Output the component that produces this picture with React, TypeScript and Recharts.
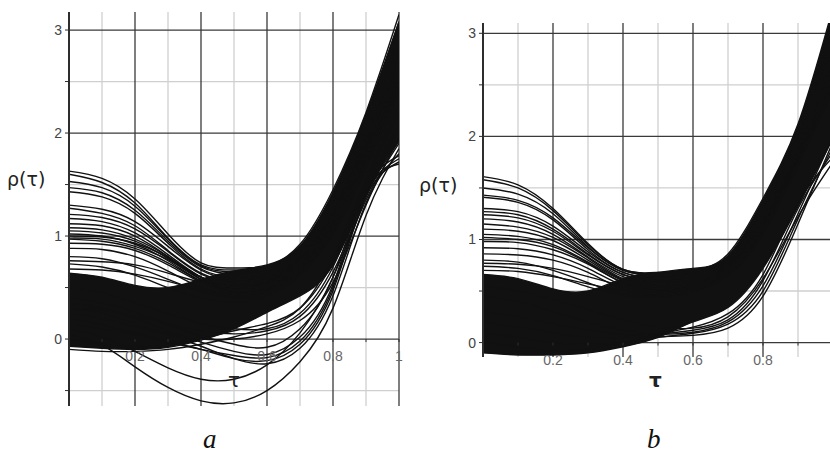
import { Area, CartesianGrid, ComposedChart, Line, XAxis, YAxis } from "recharts";

// sample points along tau
const TAU = [0, 0.1, 0.2, 0.3, 0.4, 0.5, 0.6, 0.7, 0.8, 0.9, 1];

// panel a: dense core of the bundle (lower / upper edge)
const A_BAND_LOW = [-0.07, -0.09, -0.1, -0.08, -0.01, 0.1, 0.26, 0.42, 0.72, 1.4, 1.92];
const A_BAND_HIGH = [0.64, 0.6, 0.52, 0.5, 0.58, 0.66, 0.72, 0.9, 1.42, 2.18, 3.08];

// panel a: curves fanning out above the core at small tau
const A_FAN = [
  [1.63, 1.56, 1.36, 1.02, 0.74, 0.69, 0.71, 0.92, 1.45, 2.2, 3.15],
  [1.6, 1.52, 1.32, 0.98, 0.72, 0.67, 0.7, 0.9, 1.42, 2.16, 3.08],
  [1.53, 1.47, 1.29, 0.97, 0.71, 0.65, 0.68, 0.88, 1.38, 2.1, 2.98],
  [1.47, 1.42, 1.25, 0.95, 0.7, 0.63, 0.66, 0.86, 1.35, 2.05, 2.9],
  [1.43, 1.38, 1.22, 0.93, 0.68, 0.6, 0.64, 0.84, 1.31, 2.0, 2.85],
  [1.3, 1.26, 1.14, 0.9, 0.67, 0.58, 0.62, 0.82, 1.28, 1.96, 2.8],
  [1.27, 1.22, 1.1, 0.86, 0.64, 0.56, 0.6, 0.8, 1.25, 1.92, 2.75],
  [1.21, 1.18, 1.07, 0.85, 0.63, 0.55, 0.58, 0.78, 1.22, 1.9, 2.7],
  [1.17, 1.14, 1.03, 0.82, 0.6, 0.5, 0.55, 0.76, 1.2, 1.88, 2.68],
  [1.12, 1.1, 1.0, 0.8, 0.58, 0.49, 0.55, 0.77, 1.22, 1.9, 2.72],
  [1.08, 1.06, 0.97, 0.8, 0.6, 0.52, 0.57, 0.78, 1.2, 1.85, 2.6],
  [1.05, 1.03, 0.95, 0.78, 0.58, 0.5, 0.55, 0.76, 1.18, 1.82, 2.55],
  [1.02, 1.0, 0.92, 0.76, 0.56, 0.46, 0.5, 0.72, 1.15, 1.8, 2.6],
  [1.0, 0.99, 0.93, 0.79, 0.6, 0.5, 0.53, 0.74, 1.16, 1.8, 2.58],
  [0.98, 0.97, 0.9, 0.77, 0.6, 0.51, 0.55, 0.75, 1.17, 1.83, 2.62],
  [0.97, 0.95, 0.88, 0.74, 0.56, 0.46, 0.5, 0.7, 1.12, 1.78, 2.5],
  [0.93, 0.92, 0.86, 0.72, 0.55, 0.45, 0.48, 0.68, 1.1, 1.75, 2.55],
  [0.88, 0.87, 0.8, 0.66, 0.5, 0.42, 0.46, 0.66, 1.08, 1.72, 2.45],
  [0.8, 0.78, 0.7, 0.58, 0.46, 0.4, 0.44, 0.64, 1.05, 1.7, 2.5],
  [0.76, 0.75, 0.72, 0.64, 0.55, 0.5, 0.52, 0.68, 1.08, 1.72, 2.45],
  [0.73, 0.7, 0.62, 0.5, 0.4, 0.36, 0.42, 0.62, 1.02, 1.65, 2.4],
  [0.68, 0.67, 0.63, 0.56, 0.48, 0.44, 0.48, 0.66, 1.05, 1.68, 2.42],
];

// panel a: curves dipping below zero
const A_DIPS = [
  [0.05, -0.06, -0.27, -0.47, -0.6, -0.62, -0.5, -0.22, 0.3, 1.2, 1.85],
  [0.1, 0.02, -0.12, -0.28, -0.39, -0.39, -0.25, 0.06, 0.6, 1.35, 1.9],
  [0.3, 0.25, 0.15, 0.04, -0.07, -0.19, -0.24, -0.09, 0.42, 1.32, 1.8],
  [0.2, 0.14, 0.06, -0.02, -0.1, -0.19, -0.21, -0.05, 0.47, 1.38, 1.72],
  [0.15, 0.1, 0.04, -0.03, -0.1, -0.16, -0.18, -0.02, 0.5, 1.4, 1.75],
  [0.35, 0.3, 0.2, 0.08, -0.03, -0.12, -0.15, 0.02, 0.53, 1.43, 1.7],
  [0.4, 0.35, 0.26, 0.14, 0.03, -0.05, -0.08, 0.1, 0.6, 1.45, 1.78],
];

// panel a: curves running under the core on the right
const A_LOW = [
  [0.5, 0.45, 0.35, 0.25, 0.15, 0.1, 0.1, 0.25, 0.7, 1.45, 2.1],
  [0.3, 0.28, 0.22, 0.15, 0.08, 0.05, 0.08, 0.22, 0.65, 1.38, 2.05],
  [0.0, -0.05, -0.08, -0.06, 0.0, 0.08, 0.15, 0.3, 0.75, 1.5, 2.2],
  [-0.1, -0.12, -0.12, -0.1, -0.05, 0.02, 0.12, 0.3, 0.8, 1.55, 2.3],
  [0.25, 0.2, 0.12, 0.05, 0.0, 0.0, 0.05, 0.18, 0.55, 1.3, 1.95],
];

// panel b
const B_BAND_LOW = [-0.1, -0.12, -0.12, -0.1, -0.04, 0.05, 0.2, 0.34, 0.72, 1.32, 1.98];
const B_BAND_HIGH = [0.66, 0.62, 0.52, 0.5, 0.62, 0.68, 0.72, 0.84, 1.38, 2.1, 3.22];

const B_FAN = [
  [1.61, 1.53, 1.3, 0.96, 0.71, 0.68, 0.7, 0.86, 1.4, 2.12, 3.25],
  [1.58, 1.5, 1.28, 0.95, 0.71, 0.67, 0.69, 0.84, 1.37, 2.08, 3.2],
  [1.5, 1.44, 1.25, 0.93, 0.7, 0.66, 0.68, 0.82, 1.34, 2.05, 3.15],
  [1.43, 1.38, 1.21, 0.92, 0.7, 0.65, 0.67, 0.8, 1.3, 2.0, 3.1],
  [1.41, 1.36, 1.19, 0.9, 0.68, 0.63, 0.66, 0.8, 1.28, 1.98, 3.05],
  [1.3, 1.27, 1.13, 0.88, 0.68, 0.62, 0.65, 0.79, 1.26, 1.95, 3.0],
  [1.27, 1.24, 1.1, 0.86, 0.66, 0.6, 0.63, 0.78, 1.24, 1.93, 2.95],
  [1.24, 1.21, 1.08, 0.85, 0.66, 0.6, 0.62, 0.77, 1.22, 1.9, 2.9],
  [1.2, 1.17, 1.05, 0.83, 0.64, 0.57, 0.6, 0.76, 1.2, 1.88, 2.85],
  [1.15, 1.12, 1.02, 0.82, 0.62, 0.55, 0.58, 0.75, 1.18, 1.86, 2.8],
  [1.1, 1.08, 0.99, 0.8, 0.61, 0.54, 0.57, 0.74, 1.16, 1.84, 2.75],
  [1.05, 1.03, 0.95, 0.78, 0.6, 0.52, 0.56, 0.73, 1.15, 1.82, 2.7],
  [1.02, 1.0, 0.93, 0.77, 0.58, 0.5, 0.55, 0.72, 1.14, 1.8, 2.68],
  [0.98, 0.97, 0.9, 0.76, 0.58, 0.5, 0.54, 0.72, 1.13, 1.8, 2.65],
  [0.92, 0.91, 0.85, 0.72, 0.55, 0.47, 0.52, 0.7, 1.12, 1.78, 2.6],
  [0.86, 0.85, 0.8, 0.68, 0.52, 0.45, 0.5, 0.68, 1.1, 1.76, 2.55],
  [0.8, 0.78, 0.7, 0.58, 0.47, 0.45, 0.5, 0.66, 1.08, 1.75, 2.5],
  [0.77, 0.76, 0.72, 0.64, 0.55, 0.5, 0.53, 0.68, 1.1, 1.76, 2.52],
  [0.74, 0.72, 0.65, 0.54, 0.46, 0.44, 0.49, 0.65, 1.06, 1.72, 2.45],
  [0.7, 0.69, 0.64, 0.57, 0.5, 0.47, 0.51, 0.66, 1.07, 1.73, 2.48],
];

const B_LOW = [
  [0.3, 0.25, 0.18, 0.12, 0.08, 0.06, 0.07, 0.14, 0.45, 1.15, 1.95],
  [0.1, 0.05, 0.0, -0.02, 0.0, 0.05, 0.09, 0.18, 0.5, 1.2, 1.9],
  [0.45, 0.4, 0.3, 0.2, 0.12, 0.08, 0.1, 0.2, 0.55, 1.25, 2.0],
  [0.2, 0.15, 0.1, 0.05, 0.05, 0.08, 0.12, 0.22, 0.6, 1.3, 1.85],
  [0.55, 0.5, 0.42, 0.32, 0.22, 0.15, 0.14, 0.25, 0.62, 1.22, 1.75],
  [0.0, -0.04, -0.08, -0.06, 0.0, 0.08, 0.15, 0.28, 0.66, 1.35, 1.8],
];

// grid & tick values
const X_MAJOR = [0.2, 0.4, 0.6, 0.8, 1];
const X_MINOR = [0.1, 0.3, 0.5, 0.7, 0.9];
const X_TICKS = [0.1, 0.2, 0.3, 0.4, 0.5, 0.6, 0.7, 0.8, 0.9, 1];
const A_X_LABELS = [0.2, 0.4, 0.6, 0.8, 1];
const B_X_LABELS = [0.2, 0.4, 0.6, 0.8];
const A_Y_MAJOR = [0, 1, 2, 3];
const A_Y_MINOR = [-0.5, 0.5, 1.5, 2.5];
const A_Y_TICKS = [-0.5, 0, 0.5, 1, 1.5, 2, 2.5, 3];
const B_Y_MAJOR = [0, 1, 2, 3];
const B_Y_MINOR = [0.5, 1.5, 2.5];
const B_Y_TICKS = [0, 0.5, 1, 1.5, 2, 2.5, 3];

const INK = "#111";
const AXIS = "#2e2e2e";
const TICK_FONT = "'Liberation Sans', Arial, sans-serif";
const X_AXIS_H = 30;

type Margin = { top: number; right: number; bottom: number; left: number };

interface PanelProps {
  curves: number[][];
  bandLow: number[];
  bandHigh: number[];
  yDomain: [number, number];
  yTicks: number[];
  yMajor: number[];
  yMinor: number[];
  xLabels: number[];
  width: number;
  height: number;
  margin: Margin;
}

function Panel({ curves, bandLow, bandHigh, yDomain, yTicks, yMajor, yMinor, xLabels, width, height, margin }: PanelProps) {
  const data = TAU.map((t, i) => {
    const row: Record<string, number | number[]> = { t, band: [bandLow[i], bandHigh[i]] };
    curves.forEach((c, k) => {
      row[`c${k}`] = c[i];
    });
    return row;
  });

  const [yMin, yMax] = yDomain;
  const plotH = height - margin.top - margin.bottom - X_AXIS_H;
  const zeroY = margin.top + (plotH * yMax) / (yMax - yMin);

  // x ticks sit on the zero line, not at the bottom of the plot
  const renderXTick = (props: any) => {
    const { x, payload } = props;
    const v = Math.round(payload.value * 10) / 10;
    const show = xLabels.includes(v);
    return (
      <g>
        <line x1={x} x2={x} y1={zeroY} y2={zeroY + 3} stroke={AXIS} strokeWidth={1} />
        {show && (
          <text x={x} y={zeroY + 22} textAnchor="middle" fill="#666" fontSize={14} fontFamily={TICK_FONT}>
            {String(v)}
          </text>
        )}
      </g>
    );
  };

  return (
    <ComposedChart width={width} height={height} data={data} margin={margin}>
      <CartesianGrid verticalValues={X_MINOR} horizontalValues={yMinor} stroke="#cfcfcf" strokeWidth={1.3} />
      <CartesianGrid verticalValues={X_MAJOR} horizontalValues={yMajor} stroke="#3a3a3a" strokeWidth={1.3} />
      <XAxis
        type="number"
        dataKey="t"
        domain={[0, 1]}
        allowDataOverflow
        ticks={X_TICKS}
        interval={0}
        height={X_AXIS_H}
        axisLine={false}
        tickLine={false}
        tick={renderXTick}
      />
      <YAxis
        type="number"
        domain={yDomain}
        allowDataOverflow
        ticks={yTicks}
        interval={0}
        width={30}
        tickSize={4}
        tickMargin={3}
        tickFormatter={(v: number) => (Number.isInteger(v) ? String(v) : "")}
        axisLine={{ stroke: AXIS, strokeWidth: 2 }}
        tickLine={{ stroke: AXIS }}
        tick={{ fill: "#444", fontSize: 14, fontFamily: TICK_FONT }}
      />
      <Area
        dataKey="band"
        type="natural"
        stroke={INK}
        strokeWidth={1.4}
        fill={INK}
        fillOpacity={1}
        isAnimationActive={false}
      />
      {curves.map((_, k) => (
        <Line
          key={`c${k}`}
          dataKey={`c${k}`}
          type="natural"
          stroke={INK}
          strokeWidth={1.4}
          dot={false}
          activeDot={false}
          isAnimationActive={false}
        />
      ))}
    </ComposedChart>
  );
}

const abs = (left: number, top: number): React.CSSProperties => ({ position: "absolute", left, top });

export default function App() {
  const aCurves = [...A_FAN, ...A_DIPS, ...A_LOW];
  const bCurves = [...B_FAN, ...B_LOW];

  return (
    <div
      style={{
        position: "absolute",
        left: 0,
        top: 0,
        width: 830,
        height: 454,
        overflow: "hidden",
        background: "#fff",
      }}
    >
      <div style={abs(0, 0)}>
        <Panel
          curves={aCurves}
          bandLow={A_BAND_LOW}
          bandHigh={A_BAND_HIGH}
          yDomain={[-0.65, 3.175]}
          yTicks={A_Y_TICKS}
          yMajor={A_Y_MAJOR}
          yMinor={A_Y_MINOR}
          xLabels={A_X_LABELS}
          width={410}
          height={454}
          margin={{ top: 12, right: 11, bottom: 48 - X_AXIS_H, left: 39 }}
        />
      </div>
      <div style={abs(410, 0)}>
        <Panel
          curves={bCurves}
          bandLow={B_BAND_LOW}
          bandHigh={B_BAND_HIGH}
          yDomain={[-0.14, 3.1]}
          yTicks={B_Y_TICKS}
          yMajor={B_Y_MAJOR}
          yMinor={B_Y_MINOR}
          xLabels={B_X_LABELS}
          width={430}
          height={454}
          margin={{ top: 23, right: 7, bottom: 97 - X_AXIS_H, left: 43 }}
        />
      </div>

      <div style={{ ...abs(7, 168), fontFamily: "'DejaVu Sans', sans-serif", fontSize: 19, color: "#222" }}>
        ρ(τ)
      </div>
      <div style={{ ...abs(419, 174), fontFamily: "'DejaVu Sans', sans-serif", fontSize: 19, color: "#222" }}>
        ρ(τ)
      </div>
      <div style={{ ...abs(228, 368), fontFamily: "'DejaVu Sans', sans-serif", fontSize: 20, color: "#222" }}>
        τ
      </div>
      <div
        style={{ ...abs(649, 368), fontFamily: "'DejaVu Sans', sans-serif", fontSize: 20, fontWeight: 700, color: "#222" }}
      >
        τ
      </div>
      <div style={{ ...abs(203, 424), fontFamily: "'Liberation Serif', serif", fontStyle: "italic", fontSize: 27, color: "#111" }}>
        a
      </div>
      <div style={{ ...abs(647, 424), fontFamily: "'Liberation Serif', serif", fontStyle: "italic", fontSize: 27, color: "#111" }}>
        b
      </div>
    </div>
  );
}
